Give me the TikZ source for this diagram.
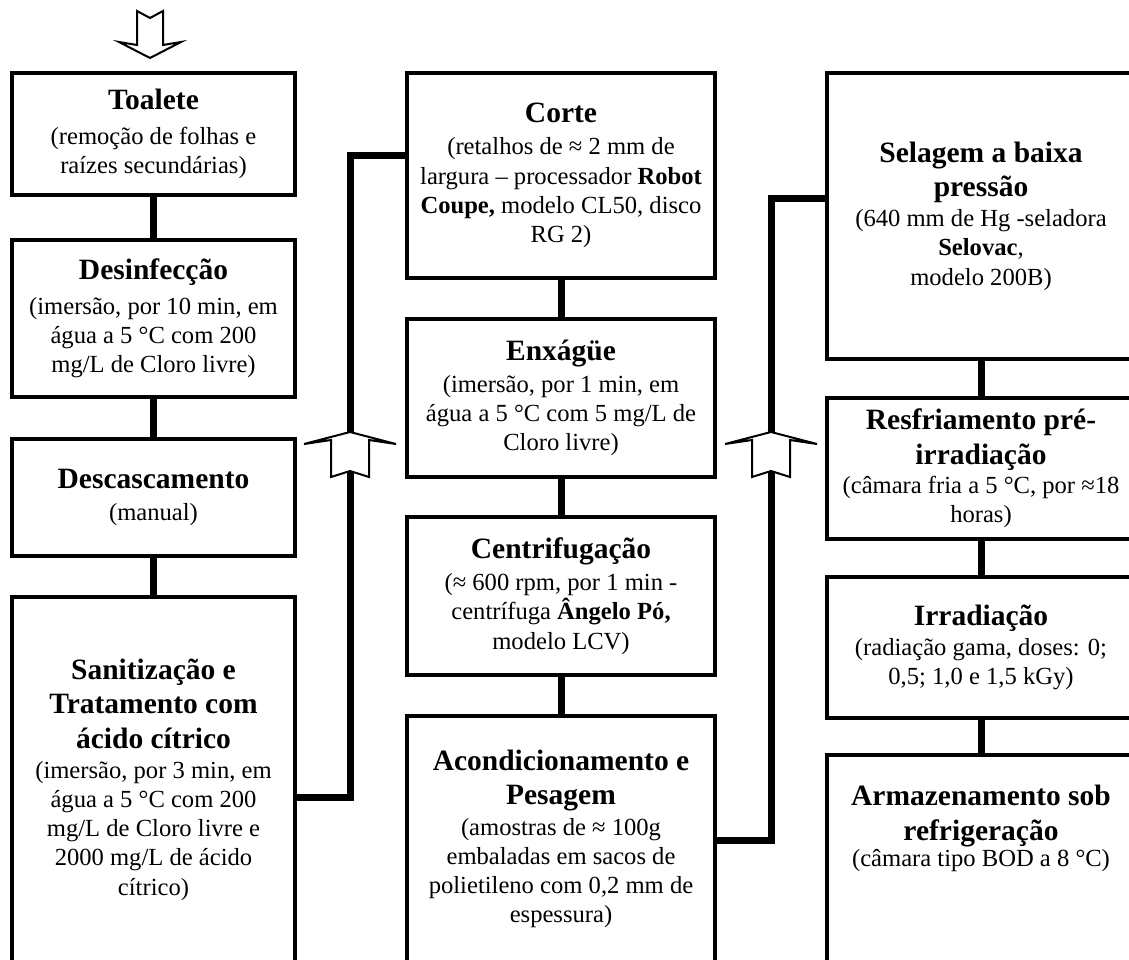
\documentclass[tikz,border=0pt]{standalone}
\usepackage{fontspec}
\setmainfont{Liberation Serif}
\newcommand\titulo{\fontsize{29.5}{34.5}\selectfont\bfseries}
\newcommand\corpo{\fontsize{24.6}{29.2}\selectfont}
\newcommand\passo[3][3pt]{{\titulo #2\par}\vspace{#1}#3}
\tikzset{
  etapa/.style={draw, line width=4pt, align=flush center, inner sep=2pt, font=\corpo},
  col1/.style={etapa, minimum width=283pt, text width=274pt},
  col2/.style={etapa, minimum width=308pt, text width=300pt},
  link/.style={line width=7pt},
  seta/.style={draw, fill=white, line width=2pt}
}
\begin{document}
\begin{tikzpicture}[x=1pt, y=-1pt]
            \useasboundingbox (0,0) rectangle (1129,959);
            \clip (0,0) rectangle (1129,959);

            \node[col1, minimum height=122pt] (toalete) at (153.5,134) {\passo[6pt]{Toalete}{(remoção de folhas e\\raízes secundárias)}};
            \node[col1, minimum height=157pt] (desinf) at (153.5,318.5) {\passo[5pt]{Desinfecção}{(imersão, por 10 min, em\\água a 5 °C com 200\\mg/L de Cloro livre)}};
            \node[col1, minimum height=117pt] (descasc) at (153.5,497.5) {\passo{Descascamento}{(manual)}};
            \node[col1, minimum height=365pt] (sanit) at (153.5,779.5) {\passo[1pt]{Sanitização e\\Tratamento com\\ácido cítrico}{(imersão, por 3 min, em\\água a 5 °C com 200\\mg/L de Cloro livre e\\2000 mg/L de ácido\\cítrico)}};

            \node[col2, minimum height=205pt] (corte) at (561,175.5) {\passo{Corte}{(retalhos de ≈ 2 mm de\\largura – processador \textbf{Robot}\\\textbf{Coupe,} modelo CL50, disco\\RG 2)}};
            \node[col2, minimum height=158pt] (enxague) at (561,398) {\passo{Enxágüe}{(imersão, por 1 min, em\\água a 5 °C com 5 mg/L de\\Cloro livre)}};
            \node[col2, minimum height=158pt] (centrif) at (561,596) {\passo{Centrifugação}{(≈ 600 rpm, por 1 min -\\centrífuga \textbf{Ângelo Pó,}\\modelo LCV)}};
            \node[col2, minimum height=246pt] (acond) at (561,839) {\passo[1pt]{Acondicionamento e\\Pesagem}{(amostras de ≈ 100g\\embaladas em sacos de\\polietileno com 0,2 mm de\\espessura)}};

            \node[col2, minimum height=286pt] (selagem) at (981,216) {\passo[1pt]{Selagem a baixa\\pressão}{(640 mm de Hg -seladora\\\textbf{Selovac},\\modelo 200B)}};
            \node[col2, minimum height=141pt] (resfr) at (981,468.5) {\passo[0pt]{Resfriamento pré-\\irradiação}{(câmara fria a 5 °C, por ≈18\\horas)}};
            \node[col2, minimum height=141pt] (irrad) at (981,647.5) {\passo[1pt]{Irradiação}{(radiação gama, doses: 0;\\0,5; 1,0 e 1,5 kGy)}};
            \node[col2, minimum height=240pt] (armaz) at (981,875) {\passo[-3pt]{Armazenamento sob\\refrigeração}{(câmara tipo BOD a 8 °C)\rule[-98pt]{0pt}{98pt}}};

            \coordinate (c1) at (350,797);
            \coordinate (c2) at (350,155);
            \coordinate (c3) at (771,840);
            \coordinate (c4) at (771,198);

            \draw[link] (toalete) -- (desinf);
            \draw[link] (desinf) -- (descasc);
            \draw[link] (descasc) -- (sanit);
            \draw[link] (sanit.east |- c1) -- (c1) -- (c2) -- (corte.west |- c2);
            \draw[link] (corte) -- (enxague);
            \draw[link] (enxague) -- (centrif);
            \draw[link] (centrif) -- (acond);
            \draw[link] (acond.east |- c3) -- (c3) -- (c4) -- (selagem.west |- c4);
            \draw[link] (selagem) -- (resfr);
            \draw[link] (resfr) -- (irrad);
            \draw[link] (irrad) -- (armaz);

            \draw[seta] (137,11) -- (150,18) -- (163,11) -- (163,45) -- (181,42) -- (150,58) -- (119,42) -- (137,45) -- cycle;
            \foreach \c in {350,771}
              \draw[seta] (\c,432) -- (\c+46,444) -- (\c+19,440) -- (\c+19,477) -- (\c,471) -- (\c-19,477) -- (\c-19,440) -- (\c-46,444) -- cycle;
        \end{tikzpicture}
\end{document}
